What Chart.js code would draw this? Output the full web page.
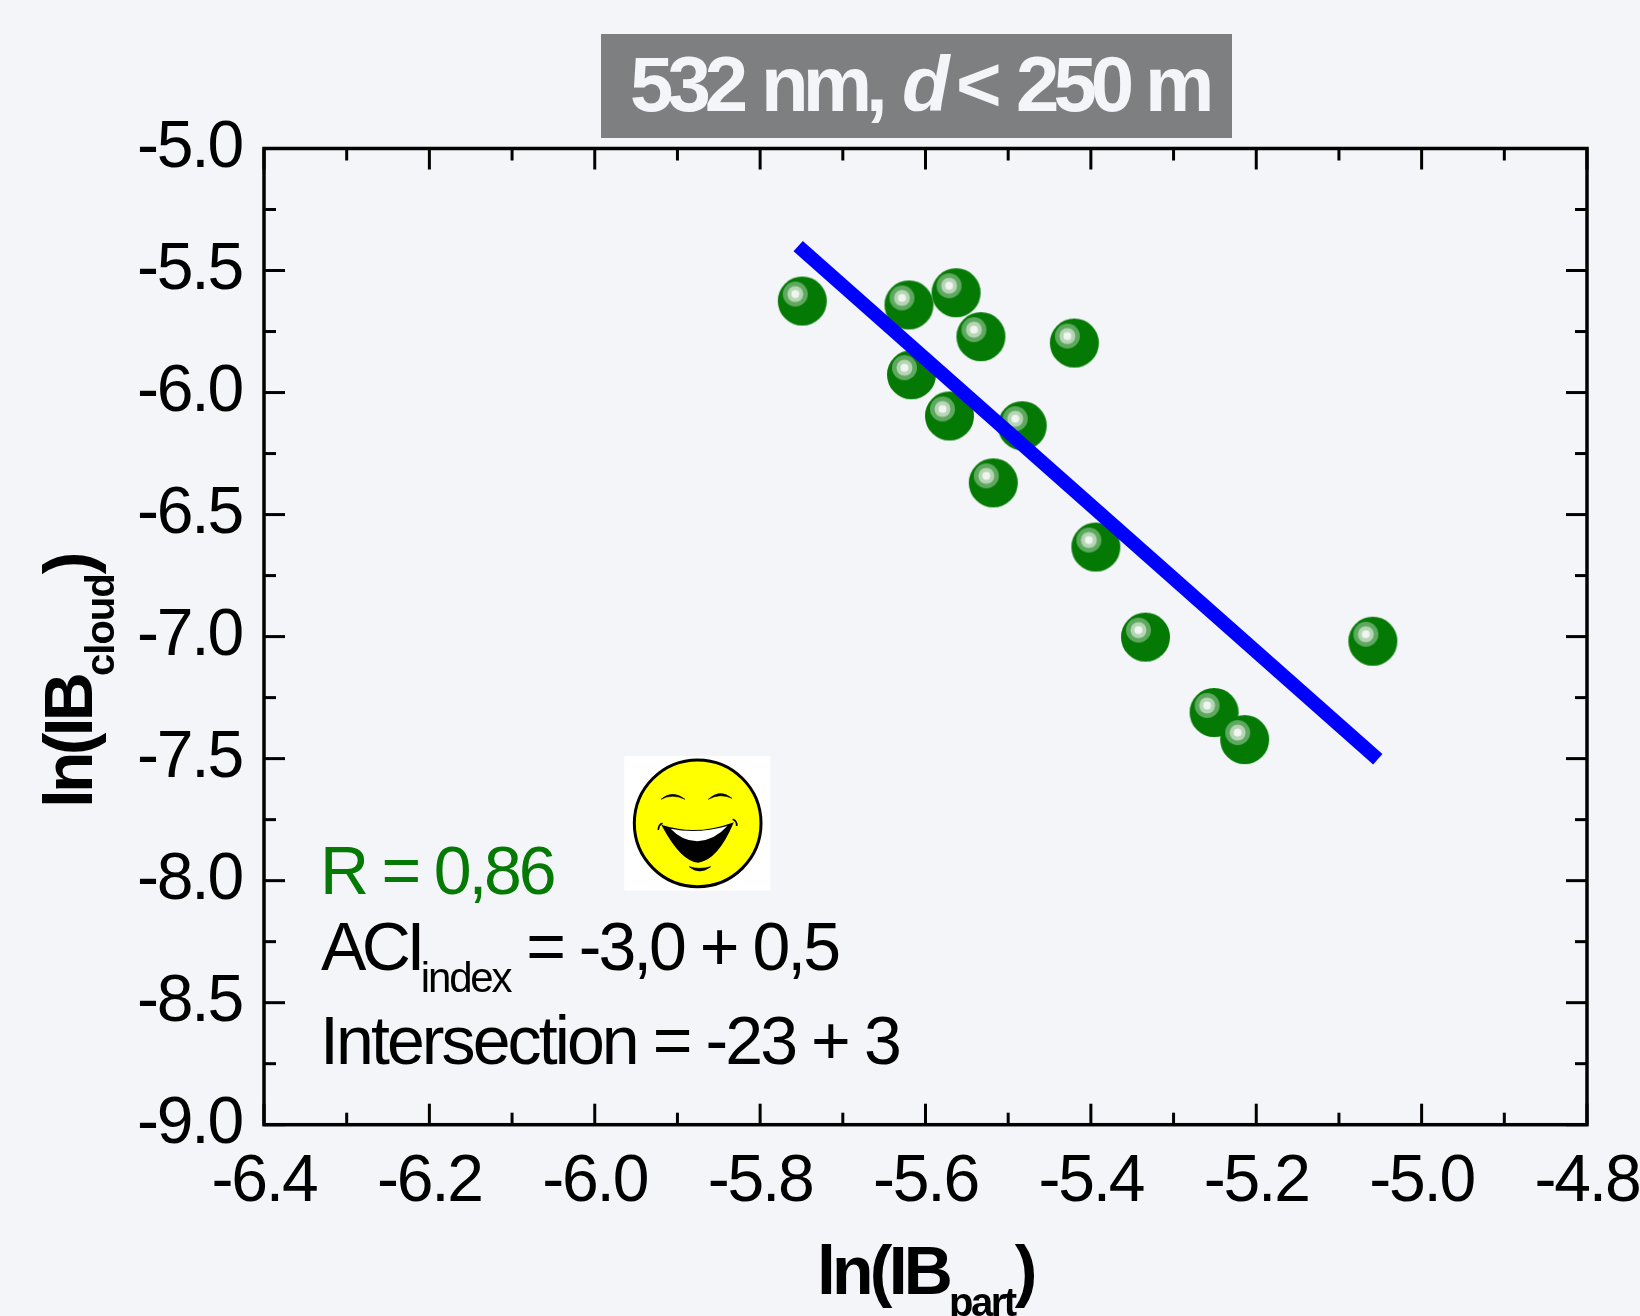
<!DOCTYPE html>
<html>
<head>
<meta charset="utf-8">
<script src="https://cdn.jsdelivr.net/npm/chart.js@4"></script>
<style>
    html, body { margin: 0; padding: 0; background: #f4f5f8; overflow: hidden; }
    #wrap { position: relative; width: 1640px; height: 1316px; }
    canvas { display: block; }
    svg { position: absolute; left: 600px; top: 740px; }
</style>
</head>
<body>
<div id="wrap">
    <canvas id="chart" width="1640" height="1316"></canvas>
    <svg width="200" height="170" viewBox="0 0 600 510">
        <rect x="73" y="48" width="438" height="404" fill="#fff"/>
        <circle cx="293" cy="250" r="190" fill="#ffff00" stroke="#000" stroke-width="9"/>
        <path d="M183,178 Q217,148 255,178 Q217,160 183,178Z" fill="#000" stroke="#000" stroke-width="1.5"/>
        <path d="M325,178 Q360,145 396,175 Q360,158 325,178Z" fill="#000" stroke="#000" stroke-width="1.5"/>
        <path d="M188,258 Q290,290 398,250 Q352,358 295,366 Q245,364 188,258Z" fill="#000" stroke="#000" stroke-width="4"/>
        <path d="M212,266 Q290,284 382,258 Q345,300 292,304 Q245,302 212,266Z" fill="#fff"/>
        <path d="M268,380 Q298,406 332,380 Q298,390 268,380Z" fill="#000" stroke="#000" stroke-width="2"/>
        <path d="M175,270 Q176,252 188,250" fill="none" stroke="#000" stroke-width="5"/>
        <path d="M398,238 Q412,244 410,258" fill="none" stroke="#000" stroke-width="5"/>
    </svg>
</div>
<script>
// DATA
const xValues = [-5.749, -5.620, -5.563, -5.533, -5.420, -5.617, -5.571, -5.483, -5.518, -5.394, -5.334, -5.059, -5.251, -5.214]
const yValues = [-5.625, -5.641, -5.591, -5.771, -5.797, -5.927, -6.096, -6.136, -6.370, -6.633, -7.002, -7.019, -7.311, -7.422]
const fitX = [-5.754, -5.053]
const fitY = [-5.40, -7.503]
const xMajorTicks = [-6.4, -6.2, -6.0, -5.8, -5.6, -5.4, -5.2, -5.0, -4.8]
const xMinorTicks = [-6.3, -6.1, -5.9, -5.7, -5.5, -5.3, -5.1, -4.9]
const yMajorTicks = [-5.0, -5.5, -6.0, -6.5, -7.0, -7.5, -8.0, -8.5, -9.0]
const yMinorTicks = [-5.25, -5.75, -6.25, -6.75, -7.25, -7.75, -8.25, -8.75]

const GREEN = '#047a04'
const FONT = '"Liberation Sans"'


// UTILS
// shiny ball used as the point style
const makeBall = (r) => {
    const c = document.createElement('canvas')
    c.width = c.height = Math.ceil(r * 2) + 2
    const g = c.getContext('2d')
    const mid = c.width / 2
    const disc = (x, y, rad, color) => {
        g.fillStyle = color
        g.beginPath()
        g.arc(x, y, rad, 0, Math.PI * 2)
        g.fill()
    }
    disc(mid, mid, r, GREEN)
    disc(mid - 7, mid - 7, 12.5, '#5fa85f')
    disc(mid - 7, mid - 7, 8, '#b5d5b5')
    disc(mid - 7, mid - 7, 4, '#f0f5f0')
    return c
}

// one line of text made of runs: {t, font, dy, gap, ls}
const drawRuns = (ctx, x, y, runs, color, spacing) => {
    ctx.fillStyle = color
    ctx.textAlign = 'left'
    ctx.textBaseline = 'alphabetic'
    runs.forEach(r => {
        ctx.font = r.font
        ctx.letterSpacing = (r.ls !== undefined ? r.ls : spacing) + 'px'
        ctx.fillText(r.t, x, y + (r.dy || 0))
        x += ctx.measureText(r.t).width + (r.gap || 0)
    })
}


// PLUGINS
const frame = {
    id: 'frame',
    beforeDraw(chart) {
        chart.ctx.letterSpacing = '-2.2px'
    },
    afterDraw(chart) {
        const {ctx, chartArea: a, scales: {x, y}} = chart
        ctx.save()
        ctx.letterSpacing = '0px'
        ctx.strokeStyle = '#000'
        const tick = (x1, y1, x2, y2) => {
            ctx.beginPath()
            ctx.moveTo(x1, y1)
            ctx.lineTo(x2, y2)
            ctx.stroke()
        }
        ctx.lineWidth = 3
        const xTicks = (vals, len) => vals.forEach(v => {
            const p = x.getPixelForValue(v)
            tick(p, a.bottom, p, a.bottom - len)
            tick(p, a.top, p, a.top + len)
        })
        const yTicks = (vals, len) => vals.forEach(v => {
            const p = y.getPixelForValue(v)
            tick(a.left, p, a.left + len, p)
            tick(a.right, p, a.right - len, p)
        })
        xTicks(xMajorTicks, 21)
        yTicks(yMajorTicks, 21)
        xTicks(xMinorTicks, 12)
        yTicks(yMinorTicks, 12)
        ctx.lineWidth = 3.5
        ctx.strokeRect(a.left, a.top, a.right - a.left, a.bottom - a.top)

        // title box
        ctx.fillStyle = '#7e7f81'
        ctx.fillRect(601, 34, 631, 104)
        const bold = `bold 78px ${FONT}`
        const ink = '#f4f5f8'
        drawRuns(ctx, 630, 110.5, [{t: '532', font: bold}], ink, -6)
        drawRuns(ctx, 761, 110.5, [{t: 'nm,', font: bold}], ink, -6)
        drawRuns(ctx, 902, 110.5, [{t: 'd', font: `italic bold 78px ${FONT}`}], ink, 0)
        drawRuns(ctx, 956, 110.5, [{t: '<', font: bold}], ink, 0)
        drawRuns(ctx, 1016, 110.5, [{t: '250', font: bold}], ink, -6)
        drawRuns(ctx, 1145, 110.5, [{t: 'm', font: bold}], ink, 0)

        // stats text
        const reg = `68px ${FONT}`
        drawRuns(ctx, 320, 894, [{t: 'R = 0,86', font: reg}], GREEN, -3.2)
        drawRuns(ctx, 321, 970, [
            {t: 'ACI', font: reg, ls: -4.5},
            {t: 'index', font: `42px ${FONT}`, dy: 22, ls: -2.2},
            {t: ' = -3,0 + 0,5', font: reg, ls: -3},
        ], '#000', -3.2)
        drawRuns(ctx, 320, 1064, [{t: 'Intersection = -23 + 3', font: reg}], '#000', -2.9)

        // axis titles
        const title = `bold 68px ${FONT}`
        const sub = `bold 40px ${FONT}`
        drawRuns(ctx, 817, 1294, [
            {t: 'ln(IB', font: title},
            {t: 'part', font: sub, dy: 22, ls: -2.5},
            {t: ')', font: title},
        ], '#000', -3.8)

        ctx.translate(92, 808)
        ctx.rotate(-Math.PI / 2)
        drawRuns(ctx, 0, 0, [
            {t: 'ln(IB', font: title},
            {t: 'cloud', font: sub, dy: 22, ls: -1},
            {t: ')', font: title},
        ], '#000', -3.8)
        ctx.restore()
    }
}


// MAIN
new Chart(document.getElementById('chart').getContext('2d'), {
    type: 'scatter',
    data: {
        datasets: [
            {
                label: 'fit',
                data: fitX.map((v, i) => ({x: v, y: fitY[i]})),
                showLine: true,
                borderColor: '#0000ff',
                borderWidth: 14,
                borderCapStyle: 'butt',
                pointRadius: 0,
            },
            {
                label: 'points',
                data: xValues.map((v, i) => ({x: v, y: yValues[i]})),
                pointStyle: makeBall(24.5),
                pointRadius: 24.5,
            },
        ]
    },
    options: {
        responsive: false,
        animation: false,
        layout: {padding: {top: 148.5, right: 53, left: 0, bottom: 0}},
        plugins: {legend: {display: false}, tooltip: {enabled: false}},
        scales: {
            x: {
                type: 'linear',
                min: -6.4,
                max: -4.8,
                grid: {display: false},
                border: {display: false},
                afterBuildTicks: s => { s.ticks = xMajorTicks.map(value => ({value})) },
                afterFit: s => { s.height = 191.3; s.paddingLeft = 0; s.paddingRight = 0 },
                ticks: {
                    color: '#000',
                    font: {family: 'Liberation Sans', size: 66},
                    maxRotation: 0,
                    autoSkip: false,
                    padding: 10,
                    callback: v => v.toFixed(1),
                },
            },
            y: {
                type: 'linear',
                min: -9,
                max: -5,
                grid: {display: false},
                border: {display: false},
                afterBuildTicks: s => { s.ticks = yMajorTicks.map(value => ({value})) },
                afterFit: s => { s.width = 264; s.paddingTop = 0; s.paddingBottom = 0 },
                ticks: {
                    color: '#000',
                    font: {family: 'Liberation Sans', size: 66},
                    autoSkip: false,
                    padding: 14,
                    callback: v => v.toFixed(1),
                },
            },
        },
    },
    plugins: [frame],
})
</script>
</body>
</html>
